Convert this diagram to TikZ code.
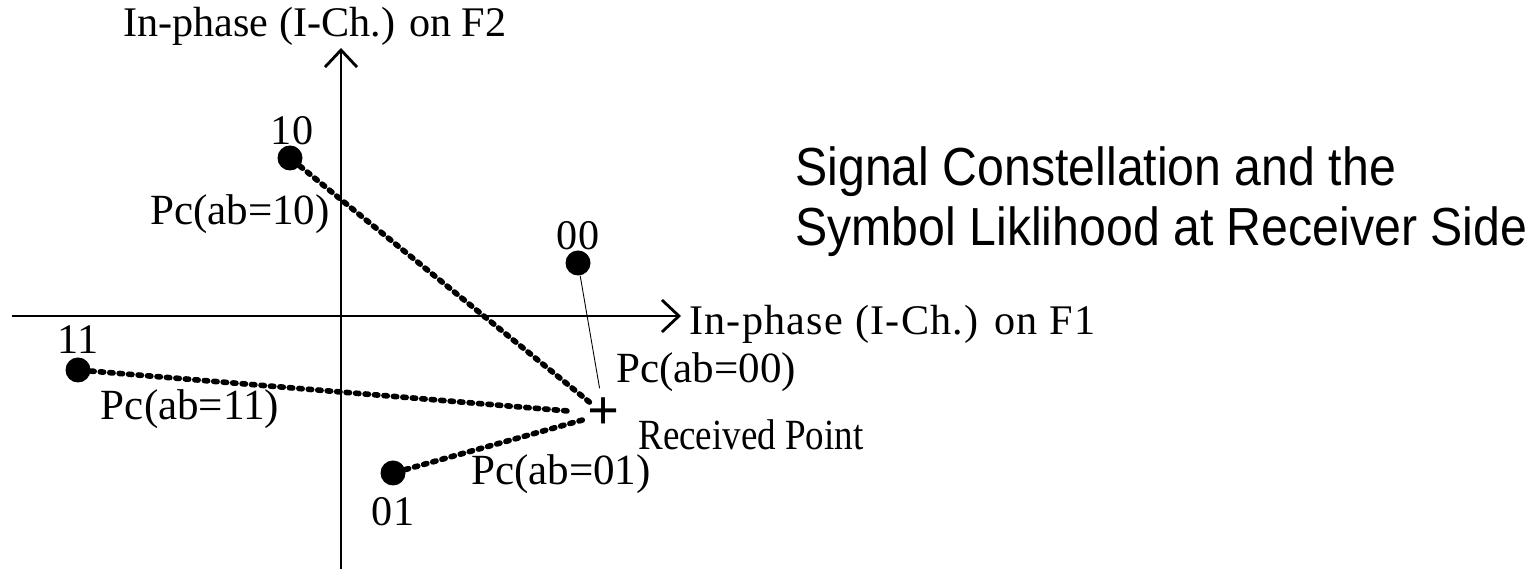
\documentclass[tikz,border=0pt]{standalone}
\usepackage{fontspec}
\setmainfont{Liberation Serif}
\setsansfont[FakeStretch=0.9]{Liberation Sans}
\newfontfamily\narrowserif[FakeStretch=0.86]{Liberation Serif}
\usepackage{tikz}
\usetikzlibrary{arrows.meta}
\usetikzlibrary{positioning}

\begin{document}
\begin{tikzpicture}
    [
symdot/.style={circle, fill=black, inner sep=0pt, minimum size=0.5cm},
lbl/.style={inner sep=0pt, font=\fontsize{24}{28}\selectfont},
axlbl/.style={inner sep=0pt, anchor=base, font=\fontsize{24}{28}\selectfont},
pclbl/.style={inner sep=0pt, anchor=base, font=\fontsize{24.5}{28}\selectfont},
likely/.style={line width=3.2pt, line cap=round, dash pattern=on 1.9pt off 3.5pt},
axis/.style={line width=1.6pt, -{Straight Barb[length=0.34cm,width=0.64cm,line width=1.6pt]}}
]
\useasboundingbox (0,0) rectangle (30.74,11.38);
% axes
\coordinate (xlo) at (0.24,5.06);
\coordinate (xhi) at (13.62,5.06);
\coordinate (ylo) at (6.82,0);
\coordinate (yhi) at (6.82,10.42);
\draw[axis] (xlo) -- (xhi);
\draw[axis] (ylo) -- (yhi);
\node[axlbl,anchor=base west,font=\fontsize{24}{28}\selectfont\addfontfeature{LetterSpace=3}](f1lbl) at (13.78,4.68){In-phase (I-Ch.) on F1};
\node[axlbl](f2lbl) at (6.30,10.64){In-phase (I-Ch.) on F2};

% constellation points
\node[symdot](d10) at (5.80,8.22){};
\node[symdot](d00) at (11.56,6.12){};
\node[symdot](d11) at (1.56,3.98){};
\node[symdot](d01) at (7.86,1.92){};
\node[inner sep=0pt,font=\fontsize{32}{36}\selectfont\bfseries](rx) at (12.08,3.10){+};
\node[lbl](l10)[above=0cm of d10,xshift=0.04cm]{10};
\node[lbl](l00)[above=0cm of d00]{00};
\node[lbl](l11)[above=0.06cm of d11]{11};
\node[lbl](l01)[below=0.22cm of d01]{01};
\node[inner sep=0pt,anchor=base west,font=\narrowserif\fontsize{24.5}{28}\selectfont](recv) at (12.76,2.38){Received Point};

% likelihoods
\draw[likely,shorten >=0.33cm] (d10) -- (rx.center);
\draw[likely,shorten >=0.63cm] (d11) -- (rx.center);
\draw[likely,shorten >=0.44cm] (d01) -- (rx.center);
\draw[line width=0.5pt,shorten >=0.52cm] (d00) -- (rx.center);
\node[pclbl](p10) at (4.80,6.88){Pc(ab=10)};
\node[pclbl](p00) at (14.12,3.72){Pc(ab=00)};
\node[pclbl](p11) at (3.80,2.98){Pc(ab=11)};
\node[pclbl](p01) at (11.22,1.68){Pc(ab=01)};

% title
\node[anchor=base west,inner sep=0pt,font=\sffamily\fontsize{30.5}{36}\selectfont](t1) at (15.9,7.66){Signal Constellation and the};
\node[anchor=base west,inner sep=0pt,font=\sffamily\fontsize{30.5}{36}\selectfont](t2) at (15.9,6.46){Symbol Liklihood at Receiver Side};
\end{tikzpicture}
\end{document}
